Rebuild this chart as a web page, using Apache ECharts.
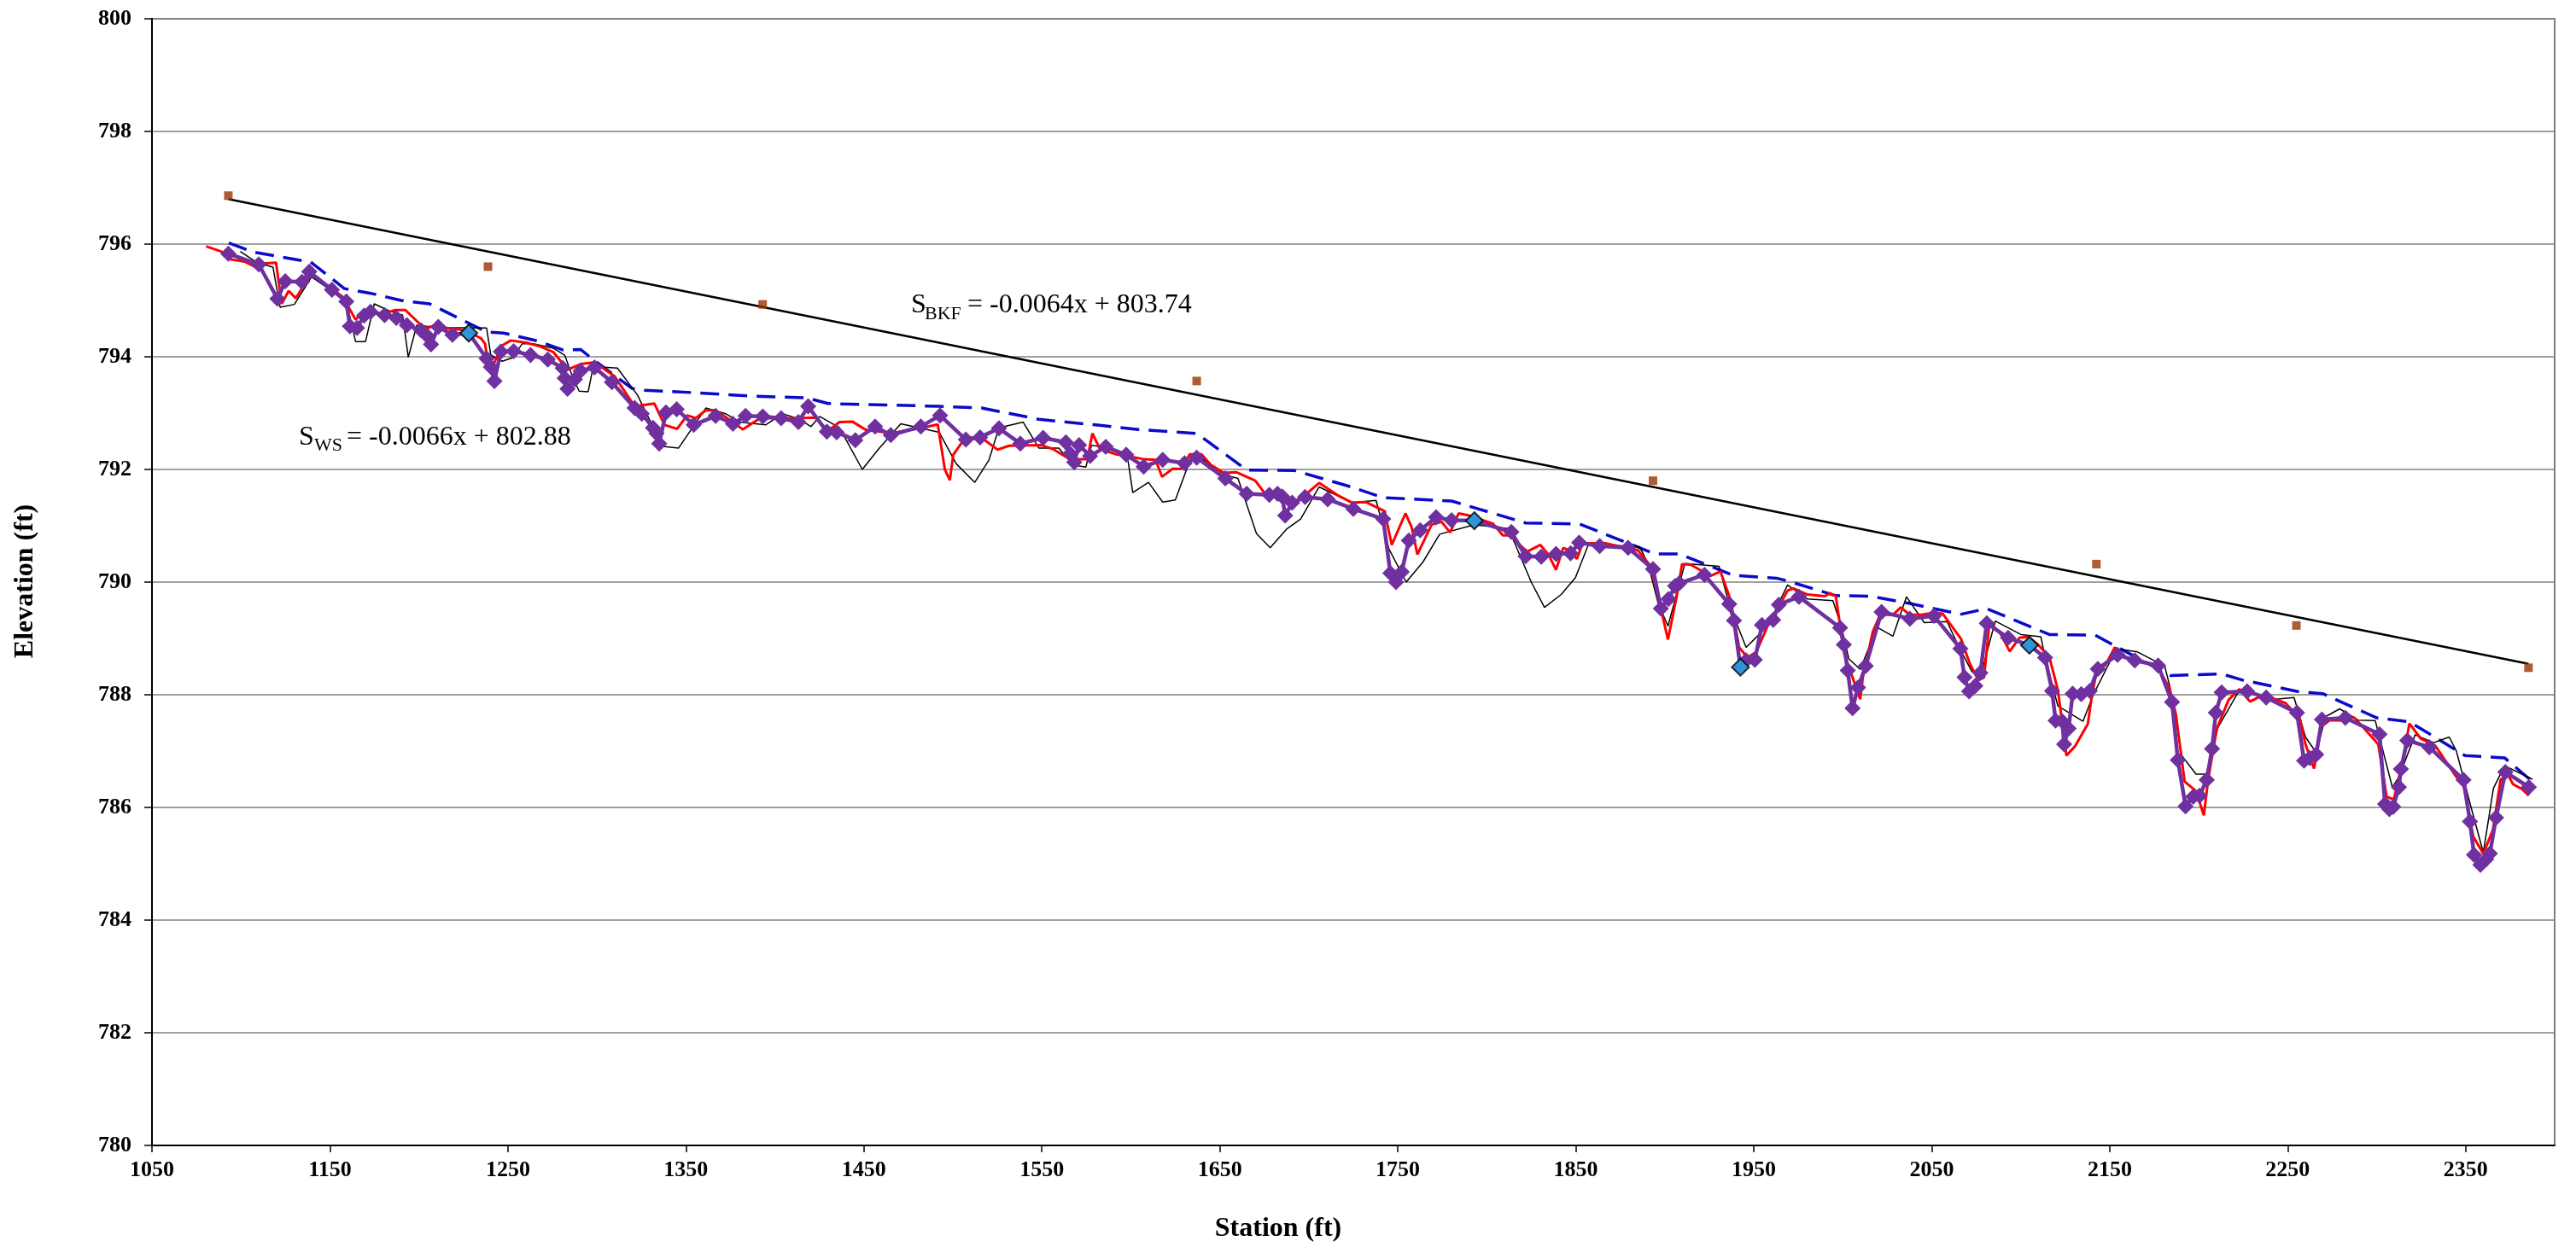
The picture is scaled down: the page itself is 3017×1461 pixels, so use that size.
<!DOCTYPE html>
<html><head><meta charset="utf-8">
<script src="https://cdn.jsdelivr.net/npm/echarts@6/dist/echarts.min.js"></script>
<style>html,body{margin:0;padding:0;background:#fff}#c{width:3017px;height:1461px}</style>
</head><body><div id="c"></div>
<script>
// ---- data (station ft, elevation ft) ----
const xTickLabels = [1050,1150,1250,1350,1450,1550,1650,1750,1850,1950,2050,2150,2250,2350];

const bankfullLine = [[1093.2,796.02],[1106.9,795.86],[1135.6,795.70],[1138.9,795.69],[1158.1,795.21],[1172.4,795.13],[1190.0,795.00],[1206.0,794.94],[1238.0,794.44],[1247.6,794.42],[1266.8,794.28],[1281.1,794.12],[1290.8,794.13],[1297.9,793.95],[1319.6,793.44],[1324.4,793.41],[1356.4,793.36],[1388.3,793.30],[1417.9,793.27],[1429.9,793.17],[1468.3,793.14],[1492.3,793.12],[1516.2,793.09],[1548.3,792.89],[1580.3,792.79],[1604.2,792.71],[1637.0,792.64],[1665.1,791.99],[1692.2,791.98],[1722.6,791.70],[1741.8,791.50],[1780.2,791.44],[1793.0,791.32],[1821.8,791.05],[1852.2,791.03],[1894.6,790.50],[1908.2,790.50],[1938.6,790.12],[1962.8,790.07],[1969.0,790.02],[1996.1,789.76],[2015.3,789.75],[2037.7,789.62],[2066.5,789.43],[2080.9,789.53],[2116.1,789.07],[2141.7,789.06],[2152.9,788.87],[2184.0,788.34],[2212.9,788.37],[2224.8,788.26],[2255.2,788.06],[2269.7,788.02],[2300.1,787.59],[2318.5,787.52],[2349.6,786.92],[2371.9,786.88],[2386.3,786.49]];

const thinBlackLine = [[1099.6,795.87],[1109.2,795.67],[1118.0,795.59],[1122.0,794.88],[1130.0,794.93],[1139.7,795.42],[1150.0,795.19],[1158.8,795.04],[1164.4,794.27],[1170.0,794.27],[1174.9,794.94],[1183.6,794.81],[1190.8,794.74],[1194.0,793.99],[1198.8,794.56],[1204.4,794.54],[1216.4,794.52],[1238.0,794.51],[1240.4,794.03],[1246.8,793.92],[1252.4,793.98],[1258.0,794.23],[1264.3,794.23],[1275.6,794.15],[1281.9,794.03],[1286.0,793.67],[1290.0,793.39],[1295.1,793.38],[1297.9,793.82],[1306.0,793.81],[1311.5,793.80],[1322.8,793.32],[1329.1,792.91],[1337.2,792.41],[1345.9,792.38],[1361.2,793.09],[1372.3,792.99],[1380.3,792.84],[1394.8,792.79],[1404.3,792.99],[1414.0,792.89],[1420.3,792.76],[1425.1,792.94],[1436.3,792.74],[1449.1,792.00],[1458.7,792.38],[1470.7,792.81],[1481.1,792.74],[1492.3,792.66],[1501.9,792.10],[1512.3,791.77],[1520.3,792.17],[1525.9,792.74],[1539.5,792.84],[1548.3,792.38],[1559.5,792.38],[1567.5,792.08],[1574.7,792.04],[1577.9,792.43],[1581.9,792.41],[1597.9,792.26],[1601.1,791.59],[1609.9,791.77],[1617.9,791.42],[1625.0,791.46],[1633.1,792.15],[1637.0,792.26],[1653.1,791.90],[1660.2,791.84],[1670.6,790.86],[1678.3,790.61],[1687.5,790.94],[1695.4,791.12],[1705.8,791.69],[1724.2,791.41],[1737.8,791.45],[1745.0,790.59],[1754.7,790.00],[1764.2,790.36],[1773.5,790.85],[1793.0,791.02],[1812.2,790.95],[1825.0,790.00],[1832.4,789.55],[1841.8,789.78],[1849.8,790.08],[1856.9,790.65],[1866.6,790.66],[1885.8,790.63],[1890.6,790.33],[1896.2,789.63],[1901.8,789.22],[1911.3,790.33],[1930.5,790.28],[1936.2,789.60],[1945.7,788.84],[1953.0,789.07],[1960.9,789.42],[1969.0,789.95],[1980.1,789.70],[1994.5,789.67],[1999.3,789.20],[2003.4,788.64],[2009.8,788.45],[2019.3,789.20],[2028.2,789.04],[2035.8,789.74],[2045.8,789.28],[2058.6,789.30],[2065.7,788.82],[2072.6,788.41],[2077.8,788.37],[2085.7,789.31],[2100.1,789.07],[2111.3,789.03],[2113.7,788.66],[2120.9,787.80],[2135.0,787.53],[2140.9,788.01],[2150.5,788.61],[2155.3,788.81],[2165.6,788.76],[2180.9,788.51],[2184.0,788.12],[2190.5,786.92],[2198.5,786.59],[2204.3,786.59],[2210.8,787.42],[2223.2,788.10],[2239.2,787.91],[2253.6,787.95],[2260.0,787.25],[2266.1,786.97],[2271.2,787.61],[2279.2,787.75],[2289.6,787.55],[2299.2,787.54],[2308.8,786.36],[2312.5,786.54],[2321.6,787.29],[2332.0,787.15],[2340.8,787.25],[2344.8,787.00],[2352.8,786.03],[2359.9,785.20],[2365.6,786.34],[2371.9,786.74],[2387.5,786.50]];

const redLine = [[1080.4,795.96],[1088.9,795.87],[1094.0,795.73],[1102.0,795.69],[1108.4,795.59],[1114.0,795.66],[1119.7,795.67],[1122.9,794.94],[1126.8,795.17],[1130.8,795.04],[1139.7,795.48],[1147.6,795.29],[1157.3,795.06],[1164.4,794.66],[1169.2,794.81],[1179.7,794.76],[1186.8,794.83],[1192.4,794.83],[1201.2,794.56],[1205.2,794.51],[1210.1,794.58],[1214.8,794.51],[1223.6,794.48],[1228.4,794.43],[1234.8,794.33],[1237.2,794.23],[1238.0,794.03],[1241.2,793.82],[1246.8,794.20],[1251.6,794.29],[1260.4,794.25],[1268.4,794.18],[1275.6,794.08],[1283.6,793.77],[1290.8,793.87],[1298.7,793.90],[1310.0,793.65],[1321.2,793.12],[1332.3,793.17],[1338.0,792.79],[1345.1,792.72],[1350.7,792.96],[1355.5,792.91],[1361.2,793.05],[1366.7,793.05],[1375.6,792.86],[1381.9,792.71],[1391.6,792.91],[1412.4,792.91],[1422.7,792.92],[1429.9,792.69],[1436.3,792.84],[1443.5,792.85],[1450.7,792.71],[1461.9,792.66],[1468.3,792.66],[1482.8,792.74],[1491.5,792.80],[1495.5,792.00],[1498.3,791.81],[1500.2,792.26],[1507.1,792.57],[1516.2,792.56],[1525.1,792.35],[1531.5,792.42],[1549.9,792.43],[1556.3,792.36],[1565.9,792.18],[1575.5,792.18],[1578.4,792.64],[1582.7,792.36],[1591.5,792.27],[1597.9,792.24],[1607.5,792.18],[1613.9,792.17],[1617.5,791.87],[1623.4,792.01],[1628.3,792.01],[1633.1,792.27],[1639.7,792.27],[1645.0,792.08],[1652.3,791.94],[1659.4,791.95],[1669.9,791.80],[1675.4,791.57],[1684.3,791.55],[1689.0,791.40],[1696.2,791.50],[1705.8,791.76],[1716.3,791.54],[1724.2,791.41],[1732.2,791.42],[1742.6,791.26],[1746.6,790.66],[1754.3,791.22],[1757.8,790.97],[1761.0,790.49],[1769.0,791.02],[1774.6,791.07],[1779.4,790.88],[1784.2,791.22],[1789.1,791.19],[1803.4,791.04],[1809.0,790.83],[1813.0,790.83],[1822.6,790.54],[1830.1,790.66],[1834.6,790.49],[1838.9,790.22],[1843.0,790.61],[1847.1,790.55],[1850.6,790.41],[1853.8,790.69],[1866.6,790.69],[1885.0,790.56],[1892.1,790.28],[1897.8,789.53],[1901.8,788.98],[1906.6,789.73],[1909.7,790.32],[1914.5,790.31],[1925.8,790.11],[1931.3,790.19],[1937.0,789.68],[1941.8,788.84],[1946.5,788.66],[1951.4,788.76],[1957.8,789.22],[1963.6,789.53],[1969.0,789.85],[1972.2,789.89],[1980.1,789.78],[1989.8,789.75],[1993.0,789.80],[1996.1,789.75],[2000.9,788.72],[2009.8,787.92],[2011.3,788.31],[2016.9,789.12],[2021.0,789.42],[2028.2,789.42],[2032.6,789.55],[2037.7,789.42],[2044.2,789.42],[2051.3,789.46],[2056.1,789.44],[2066.5,788.99],[2071.3,788.56],[2076.2,788.26],[2079.4,788.31],[2082.5,789.30],[2088.9,789.07],[2093.8,788.77],[2099.3,789.01],[2104.1,789.03],[2109.7,788.89],[2116.1,788.67],[2120.9,788.08],[2125.7,786.92],[2130.6,787.09],[2137.7,787.48],[2140.1,788.01],[2143.3,788.51],[2147.3,788.51],[2152.9,788.84],[2159.3,788.66],[2167.3,788.61],[2176.9,788.49],[2183.6,788.12],[2187.2,787.65],[2192.1,786.46],[2198.5,786.29],[2202.9,785.86],[2205.3,786.49],[2210.2,787.40],[2216.8,787.91],[2222.9,788.10],[2228.9,787.88],[2235.2,787.98],[2242.4,787.93],[2248.9,787.85],[2256.8,787.58],[2260.0,787.12],[2264.8,786.69],[2268.8,787.43],[2273.6,787.55],[2280.5,787.54],[2287.2,787.60],[2292.8,787.41],[2300.9,787.12],[2305.6,786.19],[2309.6,786.14],[2314.4,786.79],[2318.4,787.49],[2324.8,787.22],[2332.8,787.10],[2344.8,786.54],[2348.8,786.39],[2354.3,785.48],[2359.9,785.18],[2365.3,785.60],[2369.6,786.49],[2373.5,786.59],[2376.7,786.41],[2381.5,786.33],[2385.5,786.21]];

const purpleProfile = [[1092.9,795.83],[1110.0,795.64],[1120.5,795.03],[1124.9,795.34],[1134.3,795.33],[1138.4,795.51],[1151.1,795.19],[1159.2,794.98],[1161.2,794.54],[1165.2,794.51],[1169.2,794.73],[1172.8,794.80],[1180.7,794.74],[1187.3,794.69],[1193.2,794.56],[1201.2,794.47],[1204.4,794.38],[1206.8,794.22],[1210.9,794.53],[1218.8,794.39],[1228.0,794.42],[1238.0,793.97],[1240.4,793.82],[1242.4,793.57],[1246.0,794.09],[1253.2,794.10],[1262.7,794.03],[1272.4,793.95],[1280.8,793.80],[1281.9,793.62],[1283.5,793.43],[1287.6,793.60],[1290.8,793.75],[1298.7,793.81],[1308.4,793.55],[1321.2,793.09],[1325.2,792.99],[1331.5,792.74],[1333.5,792.64],[1335.0,792.46],[1338.8,793.01],[1344.8,793.07],[1354.4,792.79],[1366.7,792.95],[1376.4,792.81],[1383.5,792.95],[1393.2,792.94],[1403.5,792.91],[1413.2,792.84],[1418.7,793.12],[1429.2,792.67],[1434.7,792.66],[1445.2,792.52],[1456.3,792.76],[1465.1,792.61],[1482.0,792.76],[1492.8,792.96],[1507.3,792.53],[1515.3,792.57],[1525.9,792.73],[1537.9,792.46],[1550.7,792.56],[1563.5,792.48],[1565.9,792.28],[1568.2,792.13],[1570.9,792.43],[1577.1,792.24],[1585.9,792.40],[1597.4,792.26],[1607.2,792.05],[1617.9,792.17],[1630.2,792.11],[1637.0,792.21],[1653.1,791.84],[1665.1,791.57],[1677.8,791.55],[1682.4,791.57],[1685.1,791.52],[1686.7,791.18],[1690.6,791.41],[1697.9,791.51],[1710.6,791.47],[1725.0,791.30],[1741.8,791.12],[1745.8,790.16],[1749.0,790.00],[1752.2,790.18],[1756.2,790.74],[1762.6,790.92],[1771.5,791.15],[1780.2,791.10],[1793.0,791.09],[1813.8,790.89],[1821.8,790.46],[1830.6,790.45],[1838.9,790.50],[1847.1,790.51],[1851.9,790.70],[1863.4,790.64],[1879.4,790.61],[1893.4,790.23],[1897.8,789.53],[1902.1,789.70],[1905.8,789.93],[1908.2,789.98],[1922.3,790.13],[1936.2,789.61],[1938.9,789.32],[1942.5,788.49],[1945.7,788.61],[1950.6,788.62],[1954.6,789.24],[1960.9,789.33],[1964.1,789.60],[1975.4,789.74],[1998.5,789.19],[2000.6,788.89],[2002.8,788.43],[2005.5,787.76],[2008.6,788.13],[2012.9,788.51],[2021.8,789.47],[2037.7,789.35],[2051.3,789.40],[2066.1,788.82],[2068.4,788.31],[2071.0,788.06],[2074.5,788.16],[2077.3,788.39],[2080.9,789.27],[2092.9,789.01],[2104.9,788.88],[2113.7,788.66],[2117.6,788.07],[2119.6,787.54],[2123.3,787.53],[2124.4,787.12],[2126.9,787.40],[2129.2,788.02],[2134.0,788.01],[2138.8,788.07],[2143.3,788.46],[2154.4,788.71],[2164.1,788.61],[2177.2,788.52],[2185.0,787.87],[2188.3,786.84],[2192.6,786.02],[2196.9,786.19],[2200.5,786.21],[2204.5,786.49],[2207.5,787.04],[2209.6,787.68],[2212.9,788.04],[2227.2,788.06],[2237.9,787.95],[2255.2,787.68],[2259.2,786.83],[2262.4,786.88],[2266.0,786.94],[2269.2,787.56],[2282.4,787.59],[2301.6,787.30],[2304.7,786.06],[2307.1,785.97],[2309.3,786.01],[2312.5,786.36],[2313.6,786.68],[2317.2,787.19],[2329.6,787.07],[2348.8,786.49],[2352.4,785.75],[2354.7,785.16],[2358.3,784.98],[2361.5,785.08],[2363.6,785.18],[2367.1,785.82],[2372.3,786.63],[2385.5,786.36]];

const bkfPoints = [[1092.9,796.86],[1238.8,795.60],[1393.1,794.93],[1637.0,793.57],[1893.4,791.80],[2142.5,790.32],[2254.9,789.23],[2385.3,788.48]];
const highlightPoints = [[1228.0,794.42],[1793.0,791.09],[1942.5,788.49],[2104.9,788.88]];
const bkfTrendEnds = [[1092.9,796.80],[2385.3,788.55]];

const eqWS = {lead:'S', sub:'WS', rest:'= -0.0066x + 802.88'};
const eqBKF = {lead:'S', sub:'BKF', rest:'= -0.0064x + 803.74'};

// ---- chart ----
const F = '"Liberation Serif","Times New Roman",serif';
const chart = echarts.init(document.getElementById('c'), null, {renderer:'canvas', width:3017, height:1461});
const txt = (x, y, text, font, extra) => Object.assign({type:'text', x:x, y:y, silent:true,
  style:{text:text, font:font, fill:'#000', align:'left', verticalAlign:'middle'}}, extra || {});

chart.setOption({
  animation:false,
  backgroundColor:'#ffffff',
  grid:{left:178, right:25, top:22, bottom:119, show:true, borderColor:'#808080', borderWidth:2, outerBoundsMode:'none'},
  xAxis:{type:'value', min:1050, max:2400,
    axisLine:{show:true, onZero:false, lineStyle:{color:'#000', width:2}},
    axisTick:{show:true, length:8, customValues:xTickLabels, lineStyle:{color:'#000', width:1.5}},
    axisLabel:{customValues:xTickLabels, formatter:v => String(v), margin:16, fontFamily:F, fontSize:26, fontWeight:'bold', color:'#000'},
    splitLine:{show:false}},
  yAxis:{type:'value', min:780, max:800, interval:2,
    axisLine:{show:true, onZero:false, lineStyle:{color:'#000', width:2}},
    axisTick:{show:true, length:9, lineStyle:{color:'#000', width:1.5}},
    axisLabel:{margin:24, formatter:v => String(v), fontFamily:F, fontSize:26, fontWeight:'bold', color:'#000'},
    splitLine:{show:true, lineStyle:{color:'#808080', width:1.5}}},
  series:[
    {name:'Bankfull', type:'line', data:bankfullLine, symbol:'none', lineStyle:{color:'#0A0ACC', width:3.5, type:[22,11]}, z:2},
    {name:'Thalweg', type:'line', data:thinBlackLine, symbol:'none', lineStyle:{color:'#000', width:1.5}, z:3},
    {name:'Water surface', type:'line', data:redLine, symbol:'none', lineStyle:{color:'#FF0000', width:3}, z:4},
    {name:'Profile', type:'line', data:purpleProfile, symbol:'diamond', symbolSize:19, showSymbol:true, showAllSymbol:true,
      itemStyle:{color:'#7030A0'}, lineStyle:{color:'#7030A0', width:4.5}, z:5},
    {name:'BKF trend', type:'line', data:bkfTrendEnds, symbol:'none', lineStyle:{color:'#000', width:2.5}, z:6},
    {name:'BKF', type:'scatter', data:bkfPoints, symbol:'rect', symbolSize:10, itemStyle:{color:'#993300'}, z:7},
    {name:'Highlight', type:'scatter', data:highlightPoints, symbol:'diamond', symbolSize:20,
      itemStyle:{color:'#1FAEE6', borderColor:'#000', borderWidth:2}, z:8}
  ],
  graphic:[
    txt(350, 513, eqWS.lead, '32px '+F),
    txt(368, 522, eqWS.sub, '22px '+F),
    txt(406, 513, eqWS.rest, '32px '+F),
    txt(1067, 358, eqBKF.lead, '32px '+F),
    txt(1083, 368, eqBKF.sub, '22px '+F),
    txt(1133, 358, eqBKF.rest, '32px '+F),
    {type:'text', x:1497, y:1440, silent:true, style:{text:'Station (ft)', font:'bold 32px '+F, fill:'#000', align:'center', verticalAlign:'middle'}},
    {type:'text', x:30, y:681, rotation:Math.PI/2, silent:true, style:{text:'Elevation (ft)', font:'bold 32px '+F, fill:'#000', align:'center', verticalAlign:'middle'}}
  ]
});
</script>
</body></html>
